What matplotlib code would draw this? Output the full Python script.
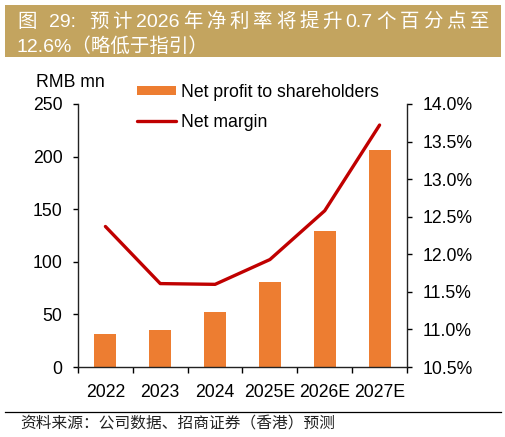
import numpy as np
import matplotlib
matplotlib.use("Agg")
import matplotlib.pyplot as plt
from matplotlib.patches import Rectangle
from matplotlib.lines import Line2D
from matplotlib.ticker import FuncFormatter

plt.rcParams['font.family'] = ['Liberation Sans', 'Noto Sans CJK SC', 'DejaVu Sans']

# ---------------- data ----------------
years = ["2022", "2023", "2024", "2025E", "2026E", "2027E"]
net_profit = [31.4, 35.0, 52.5, 80.8, 129.5, 206.0]      # RMB mn
net_margin = [12.37, 11.61, 11.60, 11.93, 12.58, 13.72]  # %
left_ticks = [0, 50, 100, 150, 200, 250]
right_ticks = [10.5, 11.0, 11.5, 12.0, 12.5, 13.0, 13.5, 14.0]
title_line1 = ["图", " ", "29:", " ", "预", "计", "2026", "年", "净", "利", "率", "将",
               "提", "升", "0.7", "个", "百", "分", "点", "至"]
title_line2 = "12.6%（略低于指引）"
source = "资料来源：公司数据、招商证券（香港）预测"

W, H = 506, 437
fig = plt.figure(figsize=(W / 100, H / 100), dpi=100)
FS = 12.7

# ---------------- title bar ----------------
fig.add_artist(Rectangle((5 / W, 1 - 57 / H), 496 / W, 52 / H, transform=fig.transFigure,
                         facecolor="#C3A45F", edgecolor="none"))

def justified(segs, x0, x1, ybase, size, **kw):
    r = fig.canvas.get_renderer()
    texts, widths = [], []
    space_px = 0.278 * size * 100 / 72
    for s in segs:
        if s == " ":
            texts.append(None)
            widths.append(space_px)
        else:
            t = fig.text(0, 0, s, fontsize=size, va="baseline", ha="left", **kw)
            texts.append(t)
            widths.append(t.get_window_extent(r).width)
    gap = (x1 - x0 - sum(widths)) / (len(segs) - 1)
    cur = x0
    for t, w in zip(texts, widths):
        if t is not None:
            t.set_position((cur / W, 1 - ybase / H))
        cur += w + gap

justified(title_line1, 17, 489, 27, 14, color="white")
fig.text(17 / W, 1 - 51.5 / H, title_line2, fontsize=14, color="white", va="baseline", ha="left")

# ---------------- axes ----------------
ax = fig.add_axes([78 / W, 1 - 367 / H, (407 - 78) / W, (367 - 104) / H])
x = np.arange(len(years))
bars = ax.bar(x, net_profit, width=0.4, color="#ED7D31", label="Net profit to shareholders", zorder=2)
ax.set_xlim(-0.5, len(years) - 0.5)
ax.set_ylim(0, 250)
ax.set_yticks(left_ticks)
ax.set_xticks(x)
ax.set_xticklabels(years)
ax.set_xticks(np.arange(-0.5, len(years), 1), minor=True)
ax.tick_params(axis="x", which="major", length=0, pad=12, labelsize=FS)
ax.tick_params(axis="x", which="minor", length=4.3, width=1, direction="out")
ax.tick_params(axis="y", length=3.6, width=1, pad=7.5, labelsize=FS, direction="out")
for s in ["top", "right"]:
    ax.spines[s].set_visible(False)
for s in ["left", "bottom"]:
    ax.spines[s].set_linewidth(1)
    ax.spines[s].set_color("#222222")

ax2 = ax.twinx()
line, = ax2.plot(x, net_margin, color="#C00000", lw=2.4, solid_capstyle="round", label="Net margin")
ax2.set_ylim(10.5, 14.0)
ax2.set_yticks(right_ticks)
ax2.yaxis.set_major_formatter(FuncFormatter(lambda v, _: f"{v:.1f}%"))
ax2.tick_params(axis="y", length=3.6, width=1, pad=7.5, labelsize=FS, direction="out")
for s in ["top", "left", "bottom"]:
    ax2.spines[s].set_visible(False)
ax2.spines["right"].set_linewidth(1)
ax2.spines["right"].set_color("#222222")

fig.text(70.5 / W, 1 - 86.7 / H, "RMB mn", fontsize=FS, ha="center", va="baseline")

ax2.legend([bars, line], ["Net profit to shareholders", "Net margin"], loc="upper left",
           bbox_to_anchor=(137 / W, 1 - 84 / H), bbox_transform=fig.transFigure,
           frameon=False, borderpad=0, borderaxespad=0, handlelength=2.2, handleheight=0.45,
           handletextpad=0.3, labelspacing=0.72, fontsize=FS)

# ---------------- source ----------------
fig.add_artist(Line2D([5 / W, 501 / W], [1 - 412 / H] * 2, transform=fig.transFigure,
                      color="black", lw=0.9))
fig.text(20 / W, 1 - 424 / H, source, fontsize=11.3, family=["Noto Sans CJK SC", "DejaVu Sans"],
         color="#222222", va="center", ha="left")

fig.savefig("out.png", dpi=100)
